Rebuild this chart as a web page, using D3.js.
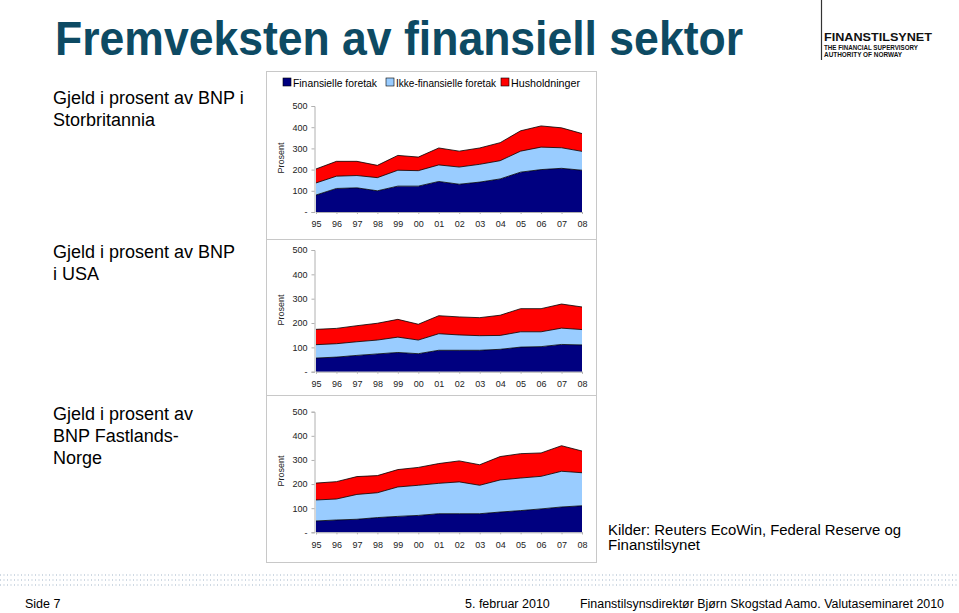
<!DOCTYPE html>
<html><head><meta charset="utf-8">
<script src="https://cdn.jsdelivr.net/npm/d3@7"></script>
<style>body{margin:0;background:#fff}svg{display:block}</style>
</head><body>
<script>
const years = ["95","96","97","98","99","00","01","02","03","04","05","06","07","08"];
const seriesNames = ["Finansielle foretak","Ikke-finansielle foretak","Husholdninger"];
const seriesColors = ["#000080","#99ccff","#ff0000"];
const yTicks = [0,100,200,300,400,500];
const yTickLabels = ["-","100","200","300","400","500"];
// Storbritannia
const ukFin  = [80,111,114,100,122,122,144,131,141,156,188,200,206,197];
const ukIkke = [57,58,58,62,75,73,78,81,84,86,99,106,97,89];
const ukHus  = [66,70,67,58,70,64,80,75,77,85,96,100,94,84];
// USA
const usFin  = [56,60,67,73,79,74,88,88,88,92,101,103,112,110];
const usIkke = [55,55,56,57,63,56,68,63,60,57,63,61,67,63];
const usHus  = [63,63,66,69,73,65,74,74,74,83,95,95,99,93];
// Fastlands-Norge
const noFin  = [47,51,54,61,66,70,77,77,77,84,90,97,105,110];
const noIkke = [87,87,103,103,122,125,126,132,118,133,135,135,148,137];
const noHus  = [70,72,74,71,72,74,82,87,85,97,101,97,106,90];

const W=959,H=613;
const svg=d3.select("body").append("svg").attr("width",W).attr("height",H)
  .style("font-family","'Liberation Sans',Arial,sans-serif");

// Title
svg.append("text").attr("x",55).attr("y",55).text("Fremveksten av finansiell sektor")
  .attr("font-family","'Liberation Sans Narrow','Arial Narrow','Liberation Sans',Arial,sans-serif")
  .attr("font-weight","bold").attr("font-size",48).attr("fill","#0d4a63")
  .attr("textLength",688).attr("lengthAdjust","spacingAndGlyphs");

// Logo
svg.append("line").attr("x1",821.5).attr("x2",821.5).attr("y1",0).attr("y2",60).attr("stroke","#333").attr("stroke-width",1.2);
svg.append("text").attr("x",824).attr("y",41).text("FINANSTILSYNET").attr("font-weight","bold").attr("font-size",10.5)
  .attr("fill","#111").attr("textLength",108).attr("lengthAdjust","spacingAndGlyphs");
svg.append("text").attr("x",824).attr("y",49.5).text("THE FINANCIAL SUPERVISORY").attr("font-weight","bold").attr("font-size",6.5)
  .attr("fill","#111").attr("textLength",94).attr("lengthAdjust","spacingAndGlyphs");
svg.append("text").attr("x",824).attr("y",57).text("AUTHORITY OF NORWAY").attr("font-weight","bold").attr("font-size",6.5)
  .attr("fill","#111").attr("textLength",78).attr("lengthAdjust","spacingAndGlyphs");

// Left labels
const leftLabels=[
  {y:104, lines:["Gjeld i prosent av BNP i","Storbritannia"]},
  {y:258, lines:["Gjeld i prosent av BNP","i USA"]},
  {y:420, lines:["Gjeld i prosent av","BNP Fastlands-","Norge"]}
];
leftLabels.forEach(l=>{
  l.lines.forEach((t,i)=>svg.append("text").attr("x",53).attr("y",l.y+i*22).text(t)
    .attr("font-size",18).attr("fill","#000"));
});

// Chart frame
svg.append("rect").attr("x",266.5).attr("y",71.5).attr("width",330).attr("height",491).attr("fill","none").attr("stroke","#c8c8c8");
[239.5,395.5].forEach(y=>svg.append("line").attr("x1",266.5).attr("x2",596.5).attr("y1",y).attr("y2",y).attr("stroke","#c8c8c8"));

// Legend
const legX=[283,386,501];
const legW=[84,100,69];
seriesNames.forEach((n,i)=>{
  svg.append("rect").attr("x",legX[i]).attr("y",78).attr("width",8).attr("height",8).attr("fill",seriesColors[i]).attr("stroke","#000").attr("stroke-width",0.6);
  svg.append("text").attr("x",legX[i]+10).attr("y",86.5).text(n).attr("font-size",10.5).attr("fill","#000")
    .attr("textLength",legW[i]).attr("lengthAdjust","spacingAndGlyphs");
});

const panels=[
  {fin:ukFin,ikke:ukIkke,hus:ukHus,y0:212,y500:106,pl:158},
  {fin:usFin,ikke:usIkke,hus:usHus,y0:371.7,y500:250,pl:310},
  {fin:noFin,ikke:noIkke,hus:noHus,y0:532.3,y500:411.7,pl:471}
];
const x=d3.scalePoint().domain(years).range([316,582]);
const keys=["fin","ikke","hus"];
panels.forEach(p=>{
  const y=d3.scaleLinear().domain([0,500]).range([p.y0,p.y500]);
  const rows=years.map((yr,i)=>({yr,fin:p.fin[i],ikke:p.ikke[i],hus:p.hus[i]}));
  const stack=d3.stack().keys(keys)(rows);
  const area=d3.area().x(d=>x(d.data.yr)).y0(d=>y(d[0])).y1(d=>y(d[1]));
  const line=d3.line().x(d=>x(d.data.yr)).y(d=>y(d[1]));
  const g=svg.append("g");
  stack.forEach((s,i)=>{
    g.append("path").attr("d",area(s)).attr("fill",seriesColors[i]);
  });
  stack.forEach((s,i)=>{
    g.append("path").attr("d",line(s)).attr("fill","none").attr("stroke","#000").attr("stroke-width",0.8);
  });
  // y axis
  const ya=d3.axisLeft(y).tickValues(yTicks).tickSize(3).tickFormat((d,i)=>yTickLabels[i]);
  const yg=svg.append("g").attr("transform","translate(314.5,0)").call(ya);
  yg.select(".domain").attr("stroke","#b0b0b0");
  yg.selectAll(".tick line").attr("stroke","#b0b0b0");
  yg.selectAll("text").attr("font-size",9).attr("fill","#222").attr("font-family","'Liberation Sans',Arial,sans-serif").attr("x",-7);
  // x axis
  const xa=d3.axisBottom(x).tickSize(2).tickPadding(7);
  const xg=svg.append("g").attr("transform",`translate(0,${p.y0})`).call(xa);
  xg.select(".domain").attr("stroke","#b0b0b0");
  xg.selectAll(".tick line").attr("stroke","#b0b0b0");
  xg.selectAll("text").attr("font-size",9).attr("fill","#222").attr("font-family","'Liberation Sans',Arial,sans-serif");
  // Prosent label
  svg.append("text").attr("transform",`translate(284,${p.pl}) rotate(-90)`).attr("text-anchor","middle")
    .text("Prosent").attr("font-size",9).attr("fill","#222");
});

// Source
svg.append("text").attr("x",608).attr("y",535).text("Kilder: Reuters EcoWin, Federal Reserve og").attr("font-size",14).attr("fill","#000")
  .attr("textLength",293).attr("lengthAdjust","spacingAndGlyphs");
svg.append("text").attr("x",608).attr("y",550).text("Finanstilsynet").attr("font-size",14).attr("fill","#000")
  .attr("textLength",92).attr("lengthAdjust","spacingAndGlyphs");

// Dotted lines
[575,580,585].forEach(yy=>svg.append("line").attr("x1",0).attr("x2",W).attr("y1",yy).attr("y2",yy)
  .attr("stroke","#9fb3c8").attr("stroke-width",1.2).attr("stroke-dasharray","1,2.5"));

// Footer
svg.append("text").attr("x",25).attr("y",608).text("Side 7").attr("font-size",12.5).attr("fill","#000");
svg.append("text").attr("x",465).attr("y",608).text("5. februar 2010").attr("font-size",12.5).attr("fill","#000");
svg.append("text").attr("x",580).attr("y",608).text("Finanstilsynsdirektør Bjørn Skogstad Aamo. Valutaseminaret 2010").attr("font-size",12.5).attr("fill","#000")
  .attr("textLength",364).attr("lengthAdjust","spacingAndGlyphs");
</script>
</body></html>
